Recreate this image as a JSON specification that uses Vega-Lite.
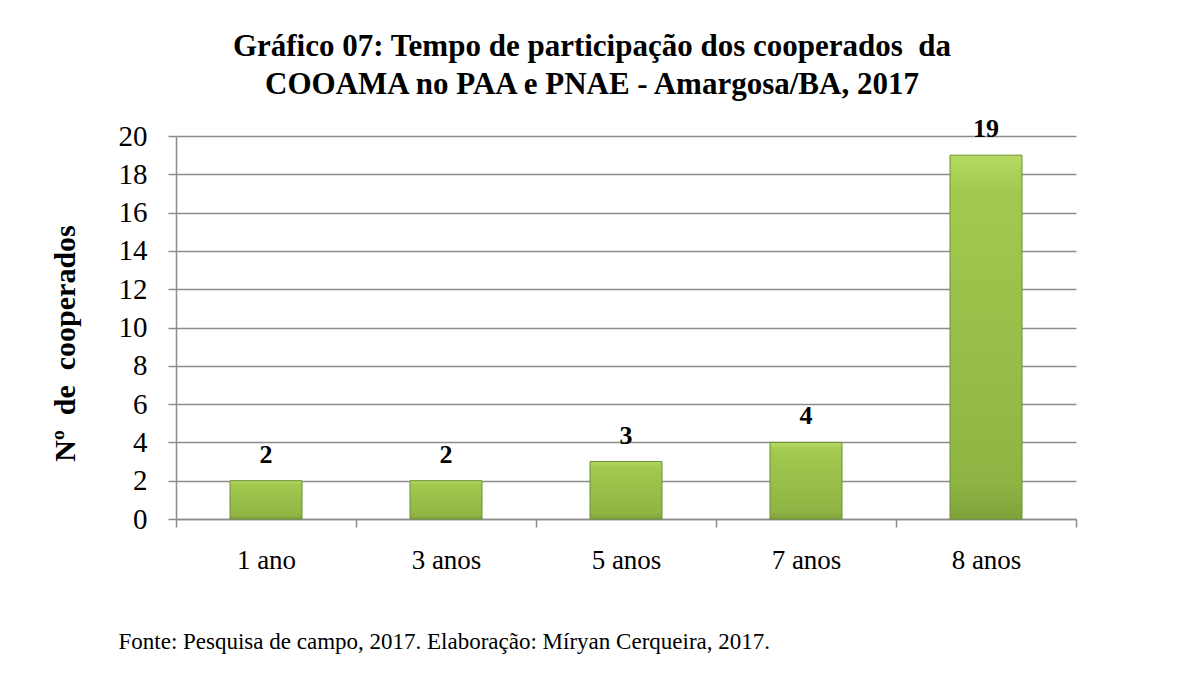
{
  "$schema": "https://vega.github.io/schema/vega-lite/v6.json",
  "width": 900,
  "height": 383,
  "autosize": "none",
  "padding": {"left": 176, "top": 136, "right": 104, "bottom": 163},
  "background": "white",
  "config": {
    "view": {"stroke": null},
    "font": "Liberation Serif"
  },
  "title": {
    "text": ["Gráfico 07: Tempo de participação dos cooperados\u00a0 da", "COOAMA no PAA e PNAE - Amargosa/BA, 2017"],
    "font": "Liberation Serif",
    "fontSize": 31,
    "fontWeight": "bold",
    "color": "black",
    "anchor": "middle",
    "frame": "group",
    "dx": -34,
    "lineHeight": 38,
    "offset": 15
  },
  "data": {
    "values": [
      {"tempo": "1 ano", "cooperados": 2},
      {"tempo": "3 anos", "cooperados": 2},
      {"tempo": "5 anos", "cooperados": 3},
      {"tempo": "7 anos", "cooperados": 4},
      {"tempo": "8 anos", "cooperados": 19}
    ]
  },
  "encoding": {
    "x": {
      "field": "tempo",
      "type": "nominal",
      "sort": null,
      "scale": {"paddingInner": 0, "paddingOuter": 0},
      "axis": {
        "title": "Fonte: Pesquisa de campo, 2017. Elaboração: Míryan Cerqueira, 2017.",
        "titleFont": "Liberation Serif",
        "titleFontSize": 23,
        "titleFontWeight": "normal",
        "titleColor": "black",
        "titleAnchor": "start",
        "titleAlign": "left",
        "titleBaseline": "alphabetic",
        "titleX": -58,
        "titleY": 129,
        "labelAngle": 0,
        "labelFont": "Liberation Serif",
        "labelFontSize": 27,
        "labelColor": "black",
        "labelPadding": 20,
        "tickBand": "extent",
        "tickSize": 8,
        "tickColor": "#8c8c8c",
        "tickWidth": 1.5,
        "domainColor": "#8c8c8c",
        "domainWidth": 1.5
      }
    },
    "y": {
      "field": "cooperados",
      "type": "quantitative",
      "scale": {"domain": [0, 20], "nice": false},
      "axis": {
        "title": "Nº\u00a0 de\u00a0 cooperados",
        "titleFont": "Liberation Serif",
        "titleFontSize": 30,
        "titleFontWeight": "bold",
        "titleColor": "black",
        "titleX": -111,
        "titleY": 207,
        "titleAngle": -90,
        "titleAlign": "center",
        "titleBaseline": "middle",
        "values": [0, 2, 4, 6, 8, 10, 12, 14, 16, 18, 20],
        "labelFont": "Liberation Serif",
        "labelFontSize": 29,
        "labelColor": "black",
        "labelPadding": 21,
        "tickSize": 8,
        "tickColor": "#8c8c8c",
        "tickWidth": 1.5,
        "domainColor": "#8c8c8c",
        "domainWidth": 1.5,
        "grid": true,
        "gridColor": "#8c8c8c",
        "gridWidth": 1.5
      }
    }
  },
  "layer": [
    {
      "mark": {
        "type": "bar",
        "width": {"band": 0.4},
        "fill": {
          "gradient": "linear",
          "x1": 0, "y1": 0, "x2": 0, "y2": 1,
          "stops": [
            {"offset": 0, "color": "#b4da62"},
            {"offset": 0.1, "color": "#a4c950"},
            {"offset": 0.9, "color": "#8fb443"},
            {"offset": 1, "color": "#7fa23a"}
          ]
        },
        "stroke": "#6f8f33",
        "strokeWidth": 1
      }
    },
    {
      "mark": {
        "type": "text",
        "font": "Liberation Serif",
        "fontSize": 26,
        "fontWeight": "bold",
        "color": "black",
        "baseline": "alphabetic",
        "dy": -18
      },
      "encoding": {"text": {"field": "cooperados", "type": "quantitative"}}
    }
  ]
}
